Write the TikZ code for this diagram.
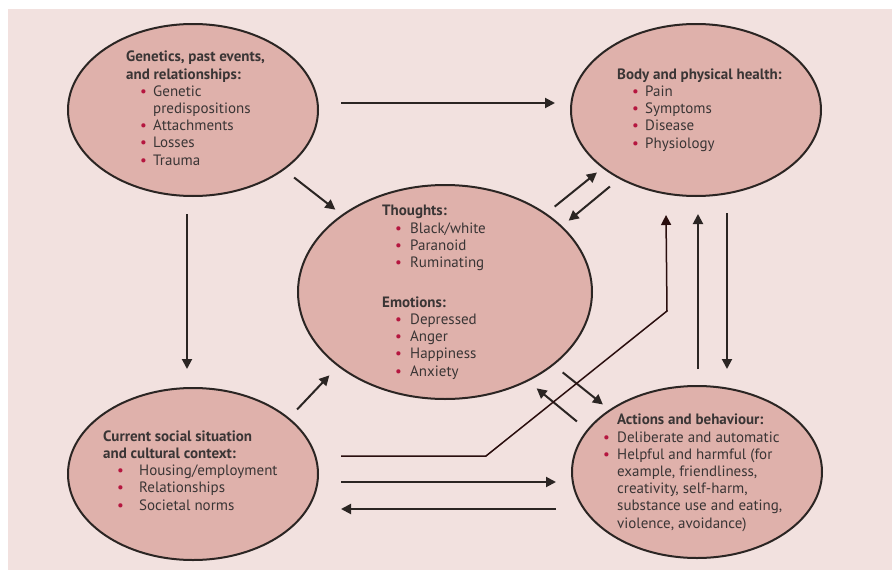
\documentclass[tikz,border=0pt]{standalone}
\usepackage{fontspec}
\setmainfont{PT Sans}
\usepackage{xcolor}
\usetikzlibrary{arrows.meta,shapes.geometric}

\definecolor{paper}{HTML}{F2E1DF}
\definecolor{blobfill}{HTML}{DFB1AB}
\definecolor{inkline}{HTML}{2B2523}
\definecolor{inktext}{HTML}{3A3535}
\definecolor{bulletred}{HTML}{B5163F}
\definecolor{bentline}{HTML}{2A0E0E}

% bullet: indent, gap to text
\newcommand{\bl}[2]{\hspace*{#1}\makebox[#2][l]{\textcolor{bulletred}{\textbullet}}}

\begin{document}
\begin{tikzpicture}[x=1pt, y=-1pt,
  blob/.style={ellipse, draw=inkline, fill=blobfill, line width=2pt, minimum width=250pt, minimum height=172pt, inner sep=0pt},
  blurb/.style={anchor=base west, align=left, inner sep=0pt, text=inktext, font=\fontsize{15}{17.2}\selectfont},
  arr/.style={draw=inkline, line width=2pt, -{Triangle[length=10pt, width=10pt]}}]
\useasboundingbox (0,0) rectangle (892,570);
\fill[white] (0,0) rectangle (892,570);
\fill[paper] (8,9) rectangle (892,570);

% ellipses
\node[blob] (gen) at (193,110) {};
\node[blob] (body) at (696,110) {};
\node[blob, minimum width=294pt, minimum height=214pt] (mind) at (445,292) {};
\node[blob] (social) at (193,474) {};
\node[blob] (act) at (697,472) {};

% texts (placed at the baseline of their last line)
\node[blurb] (gentext) at (126,165) {\textbf{Genetics, past events,}\\
  \textbf{and relationships:}\\
  \bl{14pt}{13pt}Genetic\\
  \hspace*{27pt}predispositions\\
  \bl{14pt}{13pt}Attachments\\
  \bl{14pt}{13pt}Losses\\
  \bl{14pt}{13pt}Trauma};
\node[blurb] (bodytext) at (617,148) {\textbf{Body and physical health:}\\
  \bl{15pt}{13pt}Pain\\
  \bl{15pt}{13pt}Symptoms\\
  \bl{15pt}{13pt}Disease\\
  \bl{15pt}{13pt}Physiology};
\node[blurb] (mindtext) at (382,376) {\textbf{Thoughts:}\\
  \bl{13pt}{15pt}Black/white\\
  \bl{13pt}{15pt}Paranoid\\
  \bl{13pt}{15pt}Ruminating\\[22.6pt]
  \textbf{Emotions:}\\
  \bl{13pt}{15pt}Depressed\\
  \bl{13pt}{15pt}Anger\\
  \bl{13pt}{15pt}Happiness\\
  \bl{13pt}{15pt}Anxiety};
\node[blurb] (socialtext) at (103,510) {\textbf{Current social situation}\\
  \textbf{and cultural context:}\\
  \bl{14pt}{22pt}Housing/employment\\
  \bl{14pt}{22pt}Relationships\\
  \bl{14pt}{22pt}Societal norms};
\node[blurb] (acttext) at (617,528) {\textbf{Actions and behaviour:}\\
  \bl{-14pt}{14pt}Deliberate and automatic\\
  \bl{-14pt}{14pt}Helpful and harmful (for\\
  example, friendliness,\\
  creativity, self-harm,\\
  substance use and eating,\\
  violence, avoidance)};

% connectors
\draw[arr] ([shift={(22,-7)}]gen.east) -- ([shift={(-15,-7)}]body.west);
\draw[arr] ([shift={(12,6)}]gen.south east) -- ([shift={(-5,-6)}]mind.north west);
\draw[arr] ([shift={(-6,17)}]gen.south) -- ([shift={(-6,-18)}]social.north);
\draw[arr] ([shift={(5,-9)}]mind.north east) -- ([shift={(-10,1)}]body.south west);
\draw[arr] ([shift={(3,15)}]body.south west) -- ([shift={(19,5)}]mind.north east);
\draw[arr] ([shift={(31,16)}]body.south) -- ([shift={(30,-16)}]act.north);
\draw[arr] ([shift={(1,-16)}]act.north) -- ([shift={(2,17)}]body.south);
\draw[arr] ([shift={(15,-3)}]social.north east) -- ([shift={(-11,7)}]mind.south west);
\draw[arr] ([shift={(13,4)}]mind.south east) -- ([shift={(-5,-6)}]act.north west);
\draw[arr] ([shift={(-31,11)}]act.north west) -- ([shift={(-13,20)}]mind.south east);
\draw[arr] ([shift={(22,8)}]social.east) -- ([shift={(-15,10)}]act.west);
\draw[arr] ([shift={(-15,37)}]act.west) -- ([shift={(22,35)}]social.east);
\draw[arr, draw=bentline, line width=1.5pt] ([shift={(22,-18)}]social.east) -- ++(145,0) -- ++(181,-145) -- ([shift={(-30,18)}]body.south);
\end{tikzpicture}
\end{document}
